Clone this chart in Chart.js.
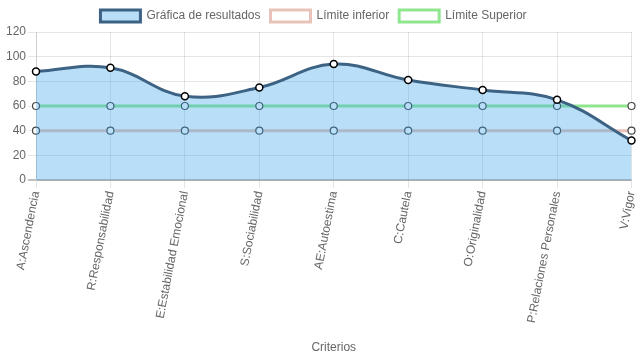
<!DOCTYPE html>
<html>
<head>
<meta charset="utf-8">
<script src="https://cdn.jsdelivr.net/npm/chart.js@4/dist/chart.umd.min.js"></script>
<style>
html,body{margin:0;padding:0;background:#fff;}
#wrap{width:637px;height:359px;}
</style>
</head>
<body>
<div id="wrap"><canvas id="c" width="637" height="359"></canvas></div>
<script>
const categories = ["A:Ascendencia","R:Responsabilidad","E:Estabilidad Emocional","S:Sociabilidad","AE:Autoestima","C:Cautela","O:Originalidad","P:Relaciones Personales","V:Vigor"];
const resultados = [88, 91, 68, 75, 94, 81, 73, 65, 32];
const limiteInferior = [40, 40, 40, 40, 40, 40, 40, 40, 40];
const limiteSuperior = [60, 60, 60, 60, 60, 60, 60, 60, 60];
const seriesNames = ["Gráfica de resultados", "Límite inferior", "Límite Superior"];
const yTicks = [0, 20, 40, 60, 80, 100, 120];

Chart.defaults.font.family = "'Liberation Sans', Arial, Helvetica, sans-serif";
Chart.defaults.font.size = 12;
Chart.defaults.color = "#666";

const legendShift = {
  id: 'legendShift',
  afterLayout(chart) {
    if (chart.legend) { chart.legend.left -= 5; chart.legend.right -= 5; }
  }
};

new Chart(document.getElementById('c'), {
  type: 'line',
  plugins: [legendShift],
  data: {
    labels: categories,
    datasets: [
      {
        label: seriesNames[0],
        data: resultados,
        borderColor: '#3d6384',
        backgroundColor: 'rgba(54,162,235,0.35)',
        borderWidth: 3,
        fill: 'origin',
        tension: 0.4,
        pointRadius: 3.5,
        pointBorderWidth: 1.5,
        pointBackgroundColor: '#fff',
        pointBorderColor: '#000'
      },
      {
        label: seriesNames[1],
        data: limiteInferior,
        borderColor: '#e8c3b9',
        backgroundColor: '#fff',
        borderWidth: 3,
        fill: false,
        tension: 0.4,
        pointRadius: 3.5,
        pointBorderWidth: 1.2,
        pointBackgroundColor: '#fff',
        pointBorderColor: '#444'
      },
      {
        label: seriesNames[2],
        data: limiteSuperior,
        borderColor: '#8fe68f',
        backgroundColor: '#fff',
        borderWidth: 3,
        fill: false,
        tension: 0.4,
        pointRadius: 3.5,
        pointBorderWidth: 1.2,
        pointBackgroundColor: '#fff',
        pointBorderColor: '#444'
      }
    ]
  },
  options: {
    responsive: false,
    animation: false,
    layout: { padding: 0 },
    plugins: {
      legend: {
        position: 'top',
        labels: { boxWidth: 40, boxHeight: 12, padding: 10, color: '#666' }
      },
      tooltip: { enabled: false }
    },
    scales: {
      x: {
        afterFit: (axis) => { axis.height = 179; axis.paddingLeft = 0; axis.paddingRight = 0; },
        grid: { color: 'rgba(0,0,0,0.1)', tickLength: 8 },
        border: { color: 'rgba(0,0,0,0.1)' },
        ticks: { minRotation: 79, maxRotation: 79, autoSkip: false, padding: 2 },
        title: { display: true, text: 'Criterios', color: '#666', padding: { top: 4, bottom: 4 } }
      },
      y: {
        min: 0,
        max: 120,
        afterFit: (axis) => { axis.width = 36; },
        afterBuildTicks: (axis) => { axis.ticks = yTicks.map(v => ({ value: v })); },
        grid: {
          tickLength: 8,
          color: (ctx) => (ctx.tick && ctx.tick.value === 0) ? 'rgba(0,0,0,0.25)' : 'rgba(0,0,0,0.1)',
          lineWidth: (ctx) => (ctx.tick && ctx.tick.value === 0) ? 2 : 1
        },
        border: { color: 'rgba(0,0,0,0.1)' },
        ticks: { padding: 2 }
      }
    }
  }
});
</script>
</body>
</html>
